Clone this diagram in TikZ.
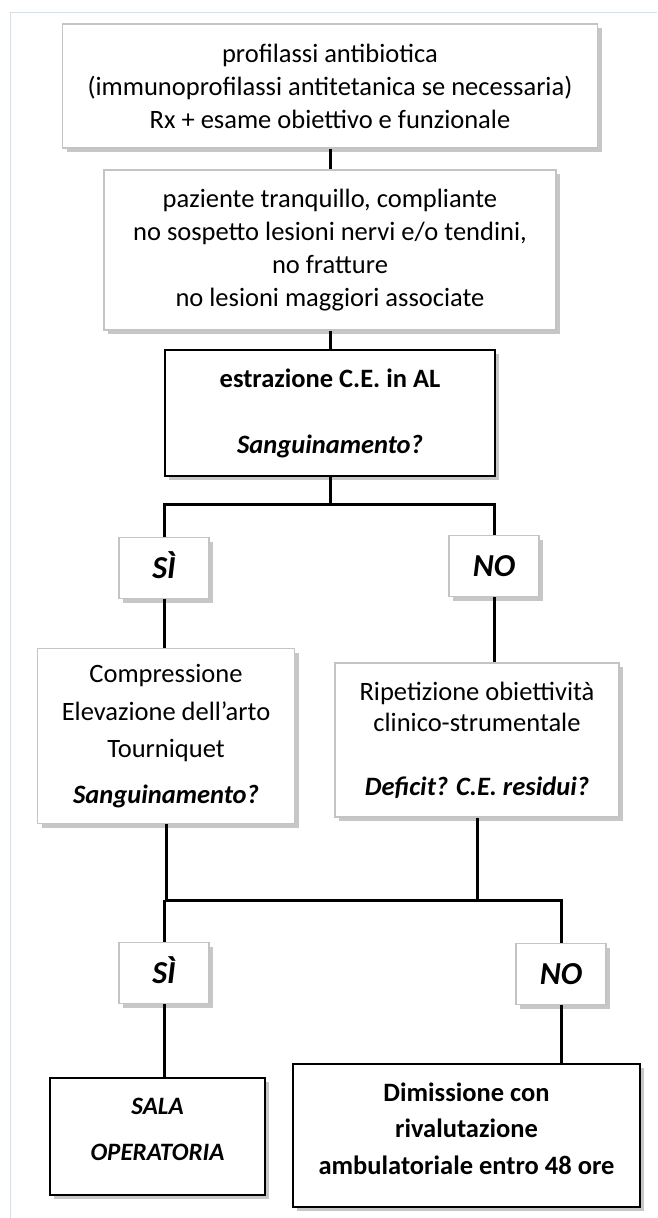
\documentclass[tikz,border=0pt]{standalone}
\usepackage{fontspec}
\setmainfont{Carlito}
\usetikzlibrary{shadows}
\definecolor{framec}{HTML}{D3E2EA}
\definecolor{lightb}{HTML}{C4C4C4}
\begin{document}
\begin{tikzpicture}[x=1pt,y=-1pt,
  base/.style={rectangle, fill=white, align=center, inner sep=0pt,
    drop shadow={shadow xshift=4pt, shadow yshift=-4pt, fill=black, opacity=0.22}},
  soft/.style={base, draw=lightb, line width=1.5pt},
  hard/.style={base, draw=black, line width=1.8pt},
  conn/.style={draw=black, line width=3pt},
  txt/.style={font=\fontsize{26.5}{33}\selectfont},
  yn/.style={soft, minimum width=90pt, minimum height=61pt, text height=21pt, text depth=0pt,
    font=\fontsize{32}{36}\selectfont\bfseries\itshape},
]
\useasboundingbox (0,0) rectangle (657,1218);
\draw[framec, line width=1pt] (10.5,1218) -- (10.5,12.5) -- (657,12.5);

\node[soft, txt, minimum width=535pt, minimum height=124pt] (b1) at (330,86)
  {profilassi antibiotica\\(immunoprofilassi antitetanica se necessaria)\\Rx + esame obiettivo e funzionale};
\node[soft, txt, minimum width=452pt, minimum height=160pt] (b2) at (330,250)
  {paziente tranquillo, compliante\\no sospetto lesioni nervi e/o tendini,\\no fratture\\no lesioni maggiori associate};
\node[hard, txt, minimum width=330pt, minimum height=126pt] (b3) at (330,413)
  {\bfseries estrazione C.E. in AL\\[33pt]\bfseries\itshape Sanguinamento?};

\node[yn] (s1) at (164,568) {SÌ};
\node[yn] (n1) at (494,566) {NO};

\node[soft, minimum width=257pt, minimum height=175pt,
  font=\fontsize{26.5}{37.5}\selectfont] (comp) at (166,736)
  {Compressione\\Elevazione dell’arto\\Tourniquet\\[8pt]\bfseries\itshape Sanguinamento?};
\node[soft, minimum width=284pt, minimum height=154pt,
  font=\fontsize{26.5}{31}\selectfont] (rip) at (477,740)
  {Ripetizione obiettività\\clinico-strumentale\\[33pt]\bfseries\itshape Deficit? C.E. residui?};

\node[yn] (s2) at (164,973) {SÌ};
\node[yn] (n2) at (561,974) {NO};

\node[hard, minimum width=215pt, minimum height=117pt,
  font=\fontsize{25}{46}\selectfont\bfseries\itshape] (sala) at (157.5,1136.5)
  {SALA\\OPERATORIA\\[-31pt]\mbox{}};
\node[hard, minimum width=347pt, minimum height=143pt,
  font=\fontsize{26.5}{36.5}\selectfont\bfseries] (dim) at (466.5,1135.5)
  {Dimissione con\\rivalutazione\\ambulatoriale entro 48 ore\\[-22pt]\mbox{}};

\coordinate (j1) at (330,504);
\coordinate (j2) at (561,900);

\draw[conn] (b1.south) -- (b2.north);
\draw[conn] (b2.south) -- (b3.north);
\draw[conn] (b3.south) -- (j1);
\draw[conn] (s1.north) |- (j1) -| (n1.north);
\draw[conn] (s1.south) -- (s1.south |- comp.north);
\draw[conn] (n1.south) -- (n1.south |- rip.north);
\draw[conn] (comp.south) -- (comp.south |- j2);
\draw[conn] (rip.south) -- (rip.south |- j2);
\draw[conn] (comp.south |- j2) -- (j2) -- (n2.north);
\draw[conn] (s2.north) -- (s2.north |- j2);
\draw[conn] (s2.south) -- (s2.south |- sala.north);
\draw[conn] (n2.south) -- (n2.south |- dim.north);
\end{tikzpicture}
\end{document}
